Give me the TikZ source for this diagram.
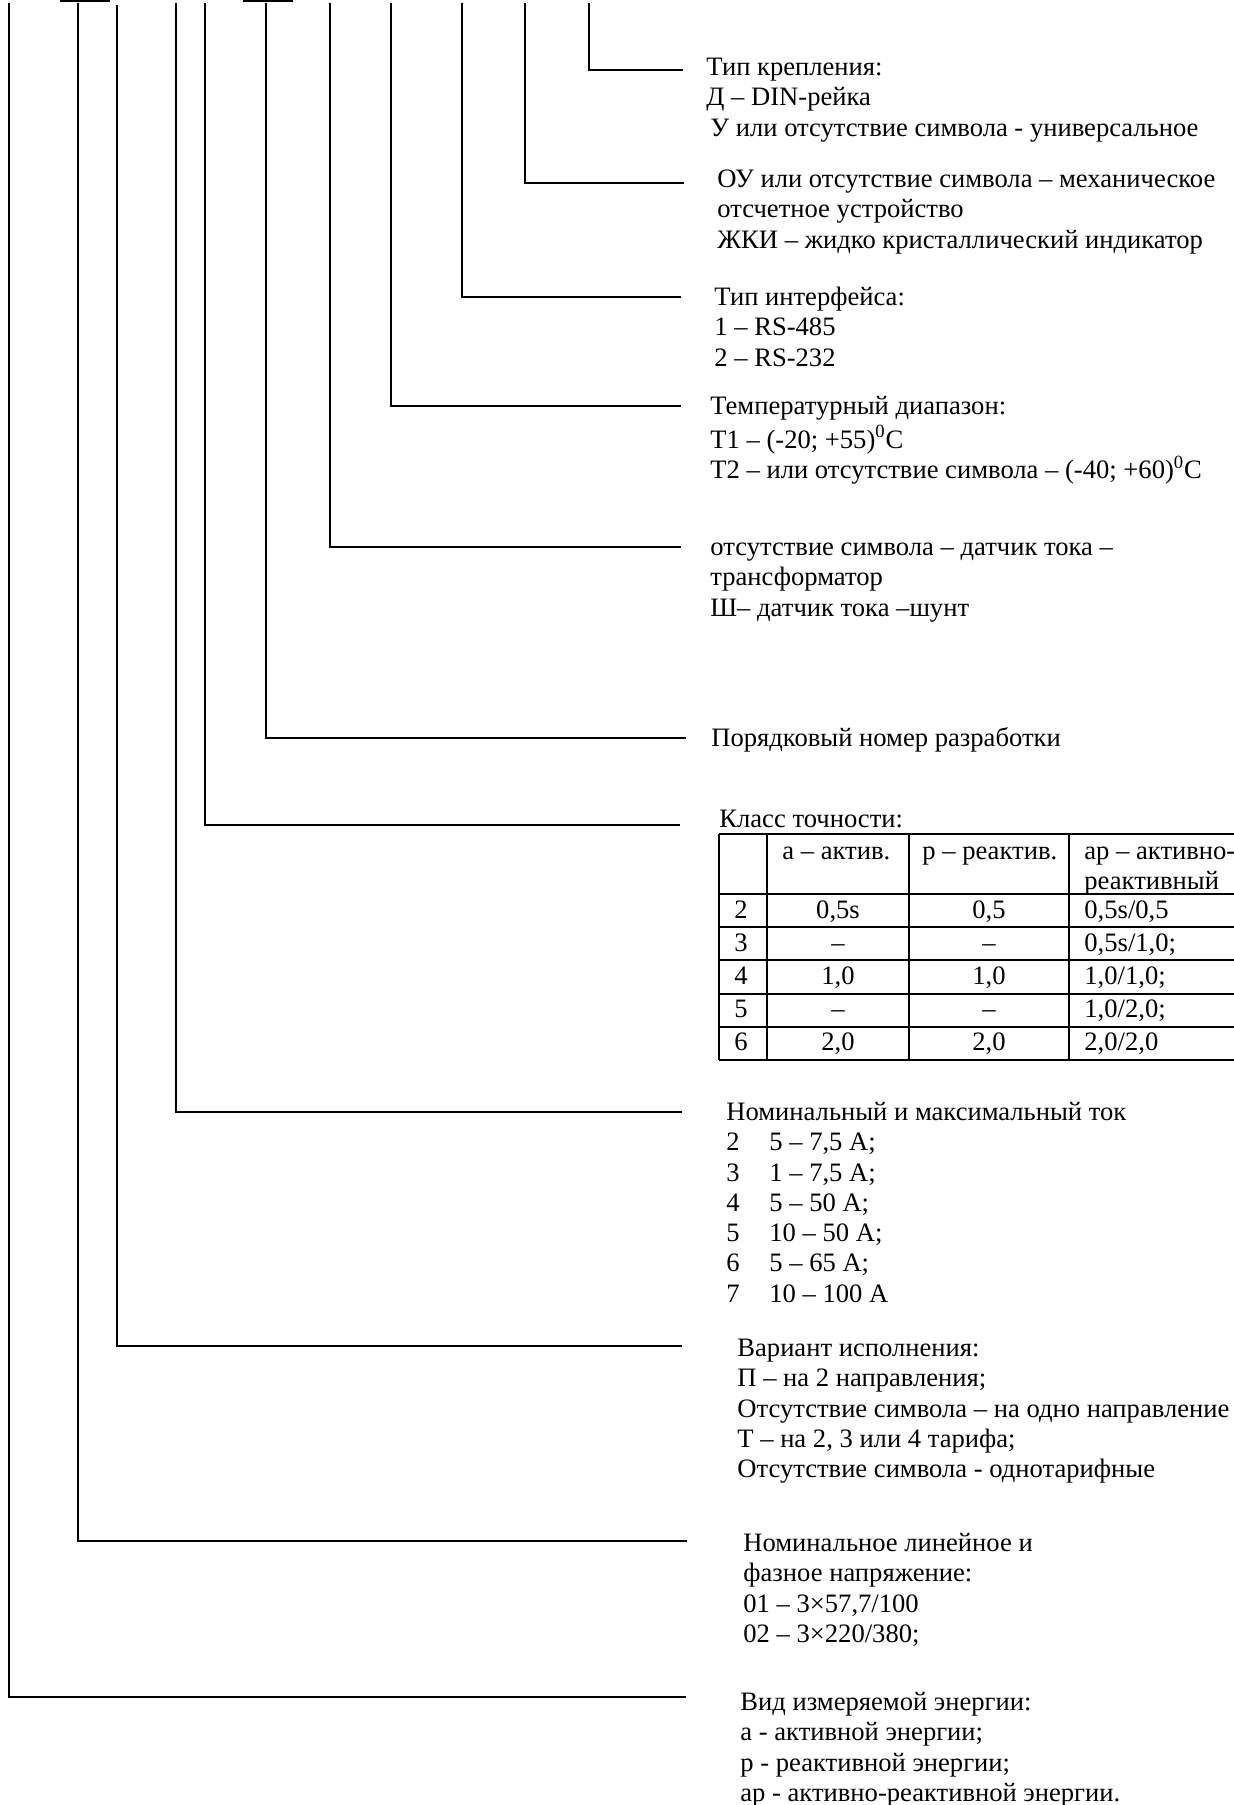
\documentclass[tikz,border=0pt]{standalone}
\usepackage{fontspec}
\setmainfont{Liberation Serif}
\begin{document}
\begin{tikzpicture}[x=0.5pt,y=-0.5pt,
  conn/.style={line width=1pt},
  bar/.style={line width=1.2pt},
  grid/.style={line width=1pt},
  fnt/.style={font=\fontsize{13.3}{15.15}\selectfont},
  txt/.style={fnt,anchor=north west,inner sep=0pt,align=left},
  lcell/.style={fnt,anchor=base west,inner sep=0pt},
  ccell/.style={fnt,anchor=base,inner sep=0pt}]
\useasboundingbox (0,0) rectangle (1234,1805);
\clip (0,0) rectangle (1234,1805);
\fill[white] (0,0) rectangle (1234,1805);

% top bars
\draw[bar] (60,1.2) -- (110,1.2);
\draw[bar] (243,1.2) -- (293,1.2);

% connectors
\foreach \i/\xt/\yt/\yh/\xe in {1/589/3/70/683, 2/525/3/183/684, 3/462/3/297/681,
  4/391/3/406/681, 5/330/3/547/681, 6/266/3/738/686, 7/205/3/825/680,
  8/176/3/1112/682, 9/117/5/1346/682, 10/78/3/1541/687, 11/9/3/1697/686}{
  \coordinate (t\i) at (\xt,\yt);
  \coordinate (e\i) at (\xe,\yh);
  \draw[conn] (t\i) |- (e\i);
}

% text blocks
\node[txt] (b1) at (706,53.8) {\strut Тип крепления:\\ Д – DIN-рейка\\ \hspace*{2pt}У или отсутствие символа - универсальное};
\node[txt] (b2) at (717,165.8) {\strut ОУ или отсутствие символа – механическое\\ отсчетное устройство\\ ЖКИ – жидко кристаллический индикатор};
\node[txt] (b3) at (714,283.8) {\strut Тип интерфейса:\\ 1 – RS-485\\ 2 – RS-232};
\node[txt] (b4) at (710,392.8) {\strut Температурный диапазон:\\ Т1 – (-20; +55)\textsuperscript{0}C\\ Т2 – или отсутствие символа – (-40; +60)\textsuperscript{0}C};
\node[txt] (b5) at (710,533.8) {\strut отсутствие символа – датчик тока –\\ трансформатор\\ Ш– датчик тока –шунт};
\node[txt] (b6) at (711,724.8) {\strut Порядковый номер разработки};
\node[txt] (b7) at (719,805.8) {\strut Класс точности:};
\node[txt] (b8) at (726,1098.8) {\strut Номинальный и максимальный ток\\
  \makebox[21.5pt][l]{2}5 – 7,5 А;\\
  \makebox[21.5pt][l]{3}1 – 7,5 А;\\
  \makebox[21.5pt][l]{4}5 – 50 А;\\
  \makebox[21.5pt][l]{5}10 – 50 А;\\
  \makebox[21.5pt][l]{6}5 – 65 А;\\
  \makebox[21.5pt][l]{7}10 – 100 А};
\node[txt] (b9) at (737,1334.8) {\strut Вариант исполнения:\\ П – на 2 направления;\\ Отсутствие символа – на одно направление\\ Т – на 2, 3 или 4 тарифа;\\ Отсутствие символа - однотарифные};
\node[txt] (b10) at (743,1529.8) {\strut Номинальное линейное и\\ фазное напряжение:\\ 01 – 3×57,7/100\\ 02 – 3×220/380;};
\node[txt] (b11) at (740,1688.8) {\strut Вид измеряемой энергии:\\ а - активной энергии;\\ р - реактивной энергии;\\ ар - активно-реактивной энергии.};

% table grid
\foreach \y in {834,894,927.2,960.4,993.6,1026.8,1060}{
  \draw[grid] (719,\y) -- (1300,\y);
}
\foreach \x in {719,767,909,1069}{
  \draw[grid] (\x,834) -- (\x,1060);
}

% table header
\node[lcell] (h1) at (782,859) {а – актив.};
\node[lcell] (h2) at (922,859) {р – реактив.};
\node[lcell] (h3) at (1084,859) {ар – активно-};
\node[lcell] (h3b) at (1084,889) {реактивный};

% table body
\foreach \r/\yb/\n/\a/\p/\ap in {1/918/2/{0,5s}/{0,5}/{0,5s/0,5}, 2/951/3/–/–/{0,5s/1,0;},
  3/984/4/{1,0}/{1,0}/{1,0/1,0;}, 4/1017/5/–/–/{1,0/2,0;}, 5/1050/6/{2,0}/{2,0}/{2,0/2,0}}{
  \node[lcell] (n\r) at (734,\yb) {\n};
  \node[ccell] (a\r) at (838,\yb) {\a};
  \node[ccell] (p\r) at (989,\yb) {\p};
  \node[lcell] (ap\r) at (1084,\yb) {\ap};
}
\end{tikzpicture}
\end{document}
